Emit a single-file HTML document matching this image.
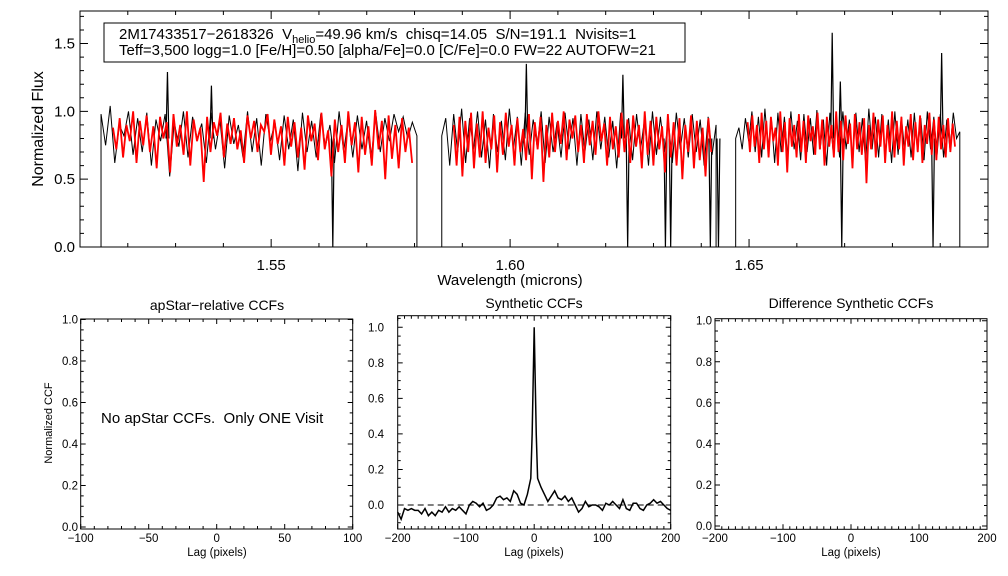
<!DOCTYPE html>
<html><head><meta charset="utf-8"><style>
body{margin:0;background:#fff}
svg{display:block;font-family:"Liberation Sans",sans-serif}
text{white-space:pre}
</style></head><body>
<svg id="c" width="1008" height="576" viewBox="0 0 1008 576"></svg>
<script>
// ---------- DATA ----------
const chipStart=[1.5144,1.5857,1.6472];
const chipEnd=[1.5805,1.6431,1.6941];
const redFlux1=[.88,.72,.95,.66,.9,.78,1.0,.62,.93,.75,.97,.7,.89,.58,.96,.8,.92,.55,.98,.74,.9,.68,1.0,.6,.94,.78,.88,.48,.96,.7,.92,.82,.99,.66,.91,.76,.95,.72,.86,.62,.97,.8,.93,.7,.9,.85,.98,.68,.94,.76,.89,.6,.96,.74,.92,.66,.88,.57,.97,.78,.91,.64,.99,.72,.86,.52,.94,.7,.9,.62,1.0,.75,.92,.55,.96,.68,.89,.6,1.01,.72,.93,.5,.97,.65,.9,.58,.95,.7,.88,.62];
const redFlux2=[.9,.6,.96,.52,.93,.7,.99,.58,.91,.66,1.0,.62,.88,.72,.97,.55,.92,.68,.99,.74,.9,.6,.95,.7,.87,.64,.98,.5,.92,.72,.96,.48,.9,.66,.99,.7,.93,.76,1.0,.64,.94,.8,.97,.7,.9,.62,.98,.75,.93,.68,1.0,.78,.91,.6,.96,.72,.89,.66,.99,.7,.94,.62,.97,.74,.9,.58,1.0,.68,.93,.6,.96,.72,.89,.55,.98,.66,.92,.6,.95,.5,.9,.7,.97,.58,.93,.64,.88,.52,.95,.7];
const redFlux3=[.92,.7,.97,.74,.9,.62,.99,.72,.93,.66,.96,.78,.88,.6,1.0,.7,.92,.55,.95,.74,.9,.66,.98,.7,.93,.62,.97,.78,.89,.68,.99,.72,.94,.6,.96,.74,.9,.66,1.0,.7,.93,.64,.97,.76,.91,.58,.98,.72,.92,.68,.95,.47,.9,.72,.99,.66,.94,.74,.97,.62,.9,.7,1.0,.66,.93,.72,.96,.6,.89,.74,.98,.64,.92,.7,.97,.62,.9,.76,.99,.68,.94,.64,.96,.72,.9,.66,.95,.7,.91,.74];
const blackFlux1=[.98,.75,1.04,.62,.9,.82,1.0,.68,.95,.7,.99,.6,.94,.78,.98,.52,.92,.74,1.0,.66,.96,.8,.91,.62,.99,.72,.93,.58,.97,.76,.9,.66,1.0,.7,.95,.6,.98,.78,.92,.64,.97,.72,.94,.56,.99,.7,.93,.66,.98,.74,.9,.62,1.0,.7,.95,.66,.97,.72,.93,.64,.99,.7,.95,.78,.98,.85,.96,.8,.92,.82];
const blackFlux2=[.82,.95,.6,.98,.7,1.02,.62,.95,.72,1.0,.66,.94,.58,.98,.7,.93,.64,1.02,.72,.96,.6,.99,.68,.94,.74,1.0,.62,.96,.7,.92,.66,.99,.72,.95,.6,.98,.7,.94,.64,1.0,.72,.96,.66,.93,.58,.99,.7,.95,.64,.98,.72,.94,.6,1.0,.68,.96,.7,.93,.62,.99,.72,.95,.66,.98,.7,.94,.6,.96,.68,.9];
const blackFlux3=[.8,.88,.72,.95,.78,1.0,.7,.96,.66,1.02,.72,.94,.62,.99,.7,.96,.66,1.0,.72,.93,.64,.98,.7,.95,.68,1.01,.72,.94,.6,.99,.7,.96,.66,1.0,.72,.94,.64,.99,.7,.95,.62,1.02,.72,.96,.66,.98,.7,.94,.62,1.0,.68,.96,.72,.94,.66,.99,.7,.95,.64,1.0,.72,.96,.68,.98,.66,.94,.72,.99,.8,.85];
const featureWave=[1.5283,1.5375,1.5629,1.6034,1.6236,1.6246,1.6325,1.6336,1.6419,1.6436,1.6674,1.6691,1.6694,1.6885,1.6903];
const featureFlux=[1.29,1.19,0.0,1.35,1.27,0.0,0.0,0.0,0.0,0.0,1.58,1.22,0.0,0.0,1.43];
const lagValues=[-200,-195,-190,-185,-180,-175,-170,-165,-160,-155,-150,-145,-140,-135,-130,-125,-120,-115,-110,-105,-100,-95,-90,-85,-80,-75,-70,-65,-60,-55,-50,-45,-40,-35,-30,-25,-20,-15,-10,-5,-3,0,3,5,10,15,20,25,30,35,40,45,50,55,60,65,70,75,80,85,90,95,100,105,110,115,120,125,130,135,140,145,150,155,160,165,170,175,180,185,190,195,200];
const ccfValues=[-0.04,-0.08,-0.02,-0.03,-0.02,-0.03,-0.03,-0.05,-0.02,-0.06,-0.04,-0.06,-0.03,-0.04,-0.01,-0.04,-0.02,-0.03,-0.01,-0.03,-0.05,0.0,0.02,0.01,-0.01,0.01,-0.03,-0.02,0.0,0.04,0.05,0.03,0.04,0.02,0.08,0.06,0.01,0.0,0.06,0.15,0.4,1.0,0.4,0.15,0.1,0.06,0.02,0.05,0.08,0.04,0.03,0.05,0.02,0.04,0.0,-0.04,-0.02,0.02,-0.01,0.0,0.0,-0.01,-0.03,0.01,0.0,0.02,0.0,-0.02,0.03,-0.02,-0.03,0.01,0.01,-0.02,-0.03,0.0,0.01,0.03,0.01,0.02,0.0,-0.02,-0.03];
const topXTicks=[1.55,1.60,1.65];
const topXTickLabels=["1.55","1.60","1.65"];
const topYTicks=[0,0.5,1.0,1.5];
const topYTickLabels=["0.0","0.5","1.0","1.5"];

// ---------- HELPERS ----------
const svg=document.getElementById('c');
const NS='http://www.w3.org/2000/svg';
function mk(tag,attrs,parent){const e=document.createElementNS(NS,tag);for(const k in attrs)e.setAttribute(k,attrs[k]);(parent||svg).appendChild(e);return e;}
function lin(d0,d1,r0,r1){return v=>r0+(v-d0)*(r1-r0)/(d1-d0);}
function txt(x,y,s,size,anchor,name,parent,rot){const t=mk('text',{x:x,y:y,'font-size':size,'text-anchor':anchor||'middle',fill:'#000'},parent);
if(rot)t.setAttribute('transform','rotate(-90 '+x+' '+y+')');


t.textContent=s;return t;}

function frame(L,T,R,B,xs,ys,xMajor,xMinor,yMajor,yMinor,majLen,minLen,name){
  const g=mk('g',{});
  
  
  mk('rect',{x:L,y:T,width:R-L,height:B-T,fill:'none',stroke:'#000','stroke-width':1},g);
  let d='';
  xMinor.forEach(v=>{const x=xs(v);d+=`M${x},${B}v${-minLen}M${x},${T}v${minLen}`;});
  xMajor.forEach(v=>{const x=xs(v);d+=`M${x},${B}v${-majLen}M${x},${T}v${majLen}`;});
  yMinor.forEach(v=>{const y=ys(v);d+=`M${L},${y}h${minLen}M${R},${y}h${-minLen}`;});
  yMajor.forEach(v=>{const y=ys(v);d+=`M${L},${y}h${majLen}M${R},${y}h${-majLen}`;});
  mk('path',{d:d,stroke:'#000','stroke-width':1,fill:'none'},g);
  return g;
}
function range(a,b,s){const r=[];for(let v=a;v<=b+1e-9;v+=s)r.push(+v.toFixed(6));return r;}

// ---------- TOP PANEL ----------
const tx=lin(1.51,1.70,80,988), ty=lin(0,1.74,247,11);
frame(80,11,988,247,tx,ty,topXTicks.concat([1.70]),range(1.51,1.70,0.01),topYTicks,range(0,1.7,0.1),8,4,'spectrum-axes');
topXTicks.forEach((v,i)=>txt(tx(v),270,topXTickLabels[i],15,'middle','x-tick-label'));
topYTicks.forEach((v,i)=>txt(75,ty(v)+5,topYTickLabels[i],15,'end','y-tick-label'));
txt(510,285,'Wavelength (microns)',15,'middle','x-axis-title');
txt(43,129,'Normalized Flux',16,'middle','y-axis-title',null,true);

const specG=mk('g',{});


const blackSets=[blackFlux1,blackFlux2,blackFlux3], redSets=[redFlux1,redFlux2,redFlux3];
blackSets.forEach((arr,c)=>{
  const w0=chipStart[c],w1=chipEnd[c];
  let pts=[[tx(w0),ty(0)]];
  arr.forEach((f,i)=>pts.push([tx(w0+(w1-w0)*i/(arr.length-1)),ty(f)]));
  pts.push([tx(w1),ty(0)]);
  const p=mk('polyline',{points:pts.map(p=>p.join(',')).join(' '),fill:'none',stroke:'#000','stroke-width':1},specG);
  
  
});
featureWave.forEach((w,i)=>{
  const p=mk('polyline',{points:`${tx(w-0.0003)},${ty(0.8)} ${tx(w)},${ty(featureFlux[i])} ${tx(w+0.0003)},${ty(0.8)}`,fill:'none',stroke:'#000','stroke-width':1.2},specG);
  
  
});
redSets.forEach((arr,c)=>{
  const w0=chipStart[c]+0.0025,w1=chipEnd[c]-0.001;
  const pts=arr.map((f,i)=>[tx(w0+(w1-w0)*i/(arr.length-1)),ty(f)]);
  const p=mk('polyline',{points:pts.map(p=>p.join(',')).join(' '),fill:'none',stroke:'#ff0000','stroke-width':1.8},specG);
  
  
});
// legend
const lg=mk('g',{});


mk('rect',{x:104,y:23,width:581,height:39,fill:'#fff',stroke:'#000'},lg);
const l1=mk('text',{x:119,y:39,'font-size':15},lg);
l1.innerHTML='2M17433517−2618326  V<tspan font-size="11" dy="4">helio</tspan><tspan dy="-4">=49.96 km/s  chisq=14.05  S/N=191.1  Nvisits=1</tspan>';


txt(119,55,'Teff=3,500 logg=1.0 [Fe/H]=0.50 [alpha/Fe]=0.0 [C/Fe]=0.0 FW=22 AUTOFW=21',15,'start','info-line-2',lg);

// ---------- BOTTOM LEFT ----------
const ax=lin(-100,100,80.7,352.7), ay=lin(0,1,527,319.5);
frame(80.7,319,352.7,529,ax,ay,range(-100,100,50),range(-100,100,10),range(0,1,0.2),range(0,1,0.05),5,3,'apstar-ccf-axes');
range(-100,100,50).forEach(v=>txt(ax(v),542,String(v).replace('-','−'),11.5,'middle','x-tick-label'));
range(0,1,0.2).forEach(v=>txt(78,ay(v)+4,v.toFixed(1),11.5,'end','y-tick-label'));
txt(217,310,'apStar−relative CCFs',14,'middle','panel-title');
txt(217,556,'Lag (pixels)',11.5,'middle','x-axis-title');
txt(52,423,'Normalized CCF',11,'middle','y-axis-title',null,true);
txt(101,423,'No apStar CCFs.  Only ONE Visit',15,'start','no-data-message');

// ---------- BOTTOM MIDDLE ----------
const mx=lin(-200,200,397.7,670.7), my=lin(0,1,505,327.3);
frame(397.7,315.7,670.7,529,mx,my,range(-200,200,100),range(-200,200,10),range(0,1,0.2),range(-0.1,1.05,0.05),5,3,'synthetic-ccf-axes');
range(-200,200,100).forEach(v=>txt(mx(v),542,String(v).replace('-','−'),11.5,'middle','x-tick-label'));
range(0,1,0.2).forEach(v=>txt(384,my(v)+4,v.toFixed(1),11.5,'end','y-tick-label'));
txt(534,308,'Synthetic CCFs',14,'middle','panel-title');
txt(534,556,'Lag (pixels)',11.5,'middle','x-axis-title');
const zl=mk('line',{x1:397.7,x2:670.7,y1:my(0),y2:my(0),stroke:'#000','stroke-dasharray':'6,4'});


const cl=mk('polyline',{points:lagValues.map((l,i)=>mx(l)+','+my(ccfValues[i])).join(' '),fill:'none',stroke:'#000','stroke-width':1.5});



// ---------- BOTTOM RIGHT ----------
const rx=lin(-200,200,715,987), ry=lin(0,1,526,320.7);
frame(715,318.7,987,529.3,rx,ry,range(-200,200,100),range(-200,200,10),range(0,1,0.2),range(0,1,0.05),5,3,'difference-ccf-axes');
range(-200,200,100).forEach(v=>txt(rx(v),542,String(v).replace('-','−'),11.5,'middle','x-tick-label'));
range(0,1,0.2).forEach(v=>txt(712,ry(v)+4,v.toFixed(1),11.5,'end','y-tick-label'));
txt(851,308,'Difference Synthetic CCFs',14,'middle','panel-title');
txt(851,556,'Lag (pixels)',11.5,'middle','x-axis-title');
</script>
</body></html>
